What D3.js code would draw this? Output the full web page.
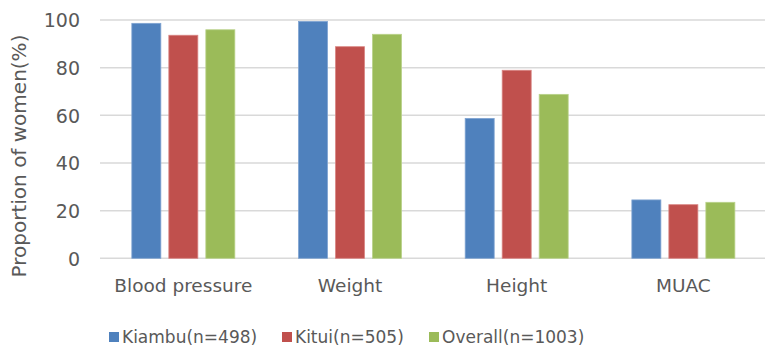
<!DOCTYPE html>
<html>
<head>
<meta charset="utf-8">
<script src="https://cdn.jsdelivr.net/npm/d3@7/dist/d3.min.js"></script>
<style>
  html, body { margin: 0; padding: 0; background: #fff; }
  svg { display: block; }
  text { font-family: "DejaVu Sans", sans-serif; fill: #595959; }
</style>
</head>
<body>
<svg id="chart" width="765" height="352"></svg>
<script>
// Measurement categories
const categories = ["Blood pressure", "Weight", "Height", "MUAC"];
// Series (proportion of women, %)
const seriesNames = ["Kiambu(n=498)", "Kitui(n=505)", "Overall(n=1003)"];
const kiambu = [98.6, 99.4, 58.7, 24.5];
const kitui = [93.6, 88.8, 78.9, 22.5];
const overall = [95.9, 94.0, 68.8, 23.5];
const yTicks = [0, 20, 40, 60, 80, 100];
const colors = ["#4F81BD", "#C0504D", "#9BBB59"];
const strokes = ["#7FA3D1", "#D98583", "#B9D28A"];

const seriesValues = [kiambu, kitui, overall];

const svg = d3.select("#chart");
const plotLeft = 100, plotRight = 766.7, plotTop = 20, plotBottom = 258.3;

const x = d3.scaleBand().domain(categories).range([plotLeft, plotRight]);
const y = d3.scaleLinear().domain([0, 100]).range([plotBottom, plotTop]);

// Bars within a category: width 29, step 37
const barW = 29, barStep = 37;
const groupInnerW = barStep * 2 + barW;
const inner = d3.scaleBand().domain(d3.range(seriesNames.length))
  .range([0, groupInnerW]).paddingInner((barStep - barW) / barStep).paddingOuter(0);

// Gridlines
svg.append("g")
  .selectAll("line")
  .data(yTicks)
  .join("line")
  .attr("x1", plotLeft).attr("x2", 765)
  .attr("y1", d => y(d)).attr("y2", d => y(d))
  .attr("stroke", "#D9D9D9")
  .attr("stroke-width", 1.5);

// Y tick labels
const yAxis = d3.axisLeft(y).tickValues(yTicks).tickSize(0).tickPadding(0);
const gy = svg.append("g").attr("transform", "translate(80,0)").call(yAxis);
gy.select(".domain").remove();
gy.selectAll("text")
  .attr("font-size", 19)
  .attr("dy", "0.36em")
  .style("font-family", "'DejaVu Sans', sans-serif")
  .attr("fill", "#595959");

// Bars
const groups = svg.append("g")
  .selectAll("g")
  .data(categories)
  .join("g")
  .attr("transform", c => `translate(${x(c) + x.bandwidth() / 2 - groupInnerW / 2},0)`);

groups.selectAll("rect")
  .data((c, i) => seriesValues.map((vals, s) => ({ s, v: vals[i] })))
  .join("rect")
  .attr("x", d => inner(d.s))
  .attr("width", inner.bandwidth())
  .attr("y", d => y(d.v))
  .attr("height", d => y(0) - y(d.v))
  .attr("fill", d => colors[d.s])
  .attr("stroke", d => strokes[d.s])
  .attr("stroke-width", 0.8);

// X category labels
const xAxis = d3.axisBottom(x).tickSize(0).tickPadding(0);
const gx = svg.append("g").attr("transform", "translate(0,292)").call(xAxis);
gx.select(".domain").remove();
gx.selectAll("text")
  .attr("dy", 0)
  .attr("font-size", 18.5)
  .style("font-family", "'DejaVu Sans', sans-serif")
  .attr("fill", "#595959");

// Y axis title
svg.append("text")
  .attr("transform", "translate(26,156) rotate(-90)")
  .attr("text-anchor", "middle")
  .attr("font-size", 20)
  .text("Proportion of women(%)");

// Legend
const legendX = [109, 282, 429];
const legend = svg.append("g")
  .selectAll("g")
  .data(seriesNames)
  .join("g")
  .attr("transform", (d, i) => `translate(${legendX[i]},332)`);
legend.append("rect")
  .attr("width", 10).attr("height", 10)
  .attr("fill", (d, i) => colors[i]);
legend.append("text")
  .attr("x", 13).attr("y", 11)
  .attr("font-size", 17)
  .text(d => d);
</script>
</body>
</html>
